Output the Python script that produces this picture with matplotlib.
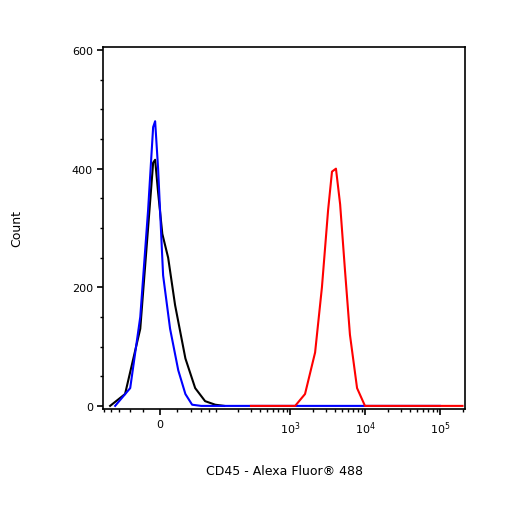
import numpy as np
import matplotlib
matplotlib.use("Agg")
import matplotlib.pyplot as plt

blue_x = [-69, -39, -24, -14, -8, -5.7, -2.3, 3.4, 11.5, 21.7, 31.7, 42.5, 60, 1e5]
blue_y = [0, 30, 150, 330, 470, 480, 400, 220, 130, 60, 20, 2, 0, 0]
black_x = [-82, -48, -24, -14, -8, -5.7, -2.3, 2.5, 9.2, 17.6, 31.7, 48, 69, 97, 130]
black_y = [0, 20, 130, 300, 410, 415, 360, 290, 250, 170, 80, 30, 8, 2, 0]
red_x = [300, 1170, 1585, 2160, 2665, 3220, 3630, 4100, 4660, 5400, 6300, 7840, 10000, 2e5]
red_y = [0, 0, 20, 90, 200, 330, 395, 400, 340, 230, 120, 30, 0, 0]

W = 37.0
fwd = lambda x: np.arcsinh(np.asarray(x, float) / W) / np.log(10)
inv = lambda y: W * np.sinh(np.asarray(y, float) * np.log(10))

fig = plt.figure(figsize=(5.06, 5.06), dpi=100)
ax = fig.add_axes([0.204, 0.19, 0.715, 0.715])
ax.set_xscale('function', functions=(fwd, inv))
ax.plot(black_x, black_y, color='black', lw=1.5)
ax.plot(blue_x, blue_y, color='blue', lw=1.5)
ax.plot(red_x, red_y, color='red', lw=1.5)
ax.set_xlim(-103, 216000)
ax.set_ylim(-5, 605)

ax.set_xticks([0, 1e3, 1e4, 1e5])
ax.set_xticklabels(['0', '$10^3$', '$10^4$', '$10^5$'])
minors = list(range(-100, 101, 20)) + [200, 300, 400, 500, 600, 700, 800, 900]
for d in (1e3, 1e4):
    minors += [k * d for k in range(2, 10)]
minors += [2e5]
ax.set_xticks(minors, minor=True)
ax.set_yticks([0, 200, 400, 600])
ax.set_yticks(range(0, 601, 50), minor=True)
ax.tick_params(labelsize=8, direction='out', length=4, width=1.2)
ax.tick_params(which='minor', length=2.5, width=1)
for s in ax.spines.values():
    s.set_linewidth(1.2)
ax.set_ylabel('Count', fontsize=9)
ax.yaxis.set_label_coords(-0.22, 0.5)
ax.set_xlabel('CD45 - Alexa Fluor® 488', fontsize=9, labelpad=20)
fig.savefig('out.png', dpi=100)
